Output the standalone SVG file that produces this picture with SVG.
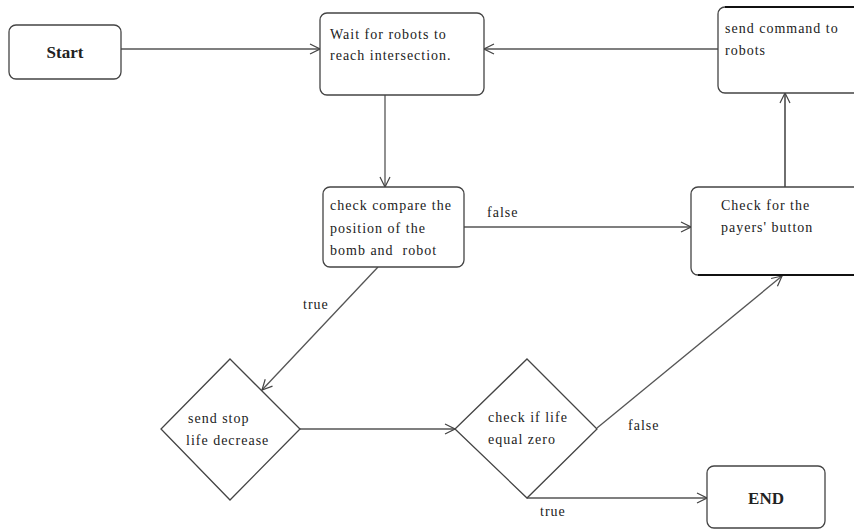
<svg xmlns="http://www.w3.org/2000/svg" width="854" height="530" viewBox="0 0 854 530">
<style>
.box{fill:#fff;stroke:#444;stroke-width:1.3}
.t{font-family:"Liberation Serif","Times New Roman",serif;font-size:14px;fill:#222;letter-spacing:1px}
.b{font-family:"Liberation Serif","Times New Roman",serif;font-size:17px;font-weight:bold;fill:#222}
.c{fill:none;stroke:#555;stroke-width:1.3}
</style>
<defs>
<marker id="a" viewBox="0 0 12 12" refX="11" refY="6" markerWidth="12" markerHeight="12" markerUnits="userSpaceOnUse" orient="auto">
<path d="M1,1 L11,6 L1,11" fill="none" stroke="#444" stroke-width="1.2"/>
</marker>
</defs>
<rect width="854" height="530" fill="#fff"/>
<g id="connectors">
<line class="c" x1="121" y1="49" x2="320" y2="49" marker-end="url(#a)"/>
<line class="c" x1="718" y1="49" x2="484" y2="49" marker-end="url(#a)"/>
<line class="c" x1="385" y1="95" x2="385" y2="187" marker-end="url(#a)"/>
<line class="c" x1="464" y1="227" x2="691" y2="227" marker-end="url(#a)"/>
<line class="c" x1="785" y1="187" x2="785" y2="93" marker-end="url(#a)" style="stroke:#222"/>
<line class="c" x1="378" y1="267" x2="262" y2="390" marker-end="url(#a)"/>
<line class="c" x1="300" y1="429" x2="455" y2="429" marker-end="url(#a)"/>
<line class="c" x1="597" y1="428" x2="782" y2="276" marker-end="url(#a)"/>
<polyline class="c" points="527,498 707,498" marker-end="url(#a)"/>
<text class="t" x="487" y="217">false</text>
<text class="t" x="303" y="309">true</text>
<text class="t" x="628" y="430">false</text>
<text class="t" x="540" y="516">true</text>
</g>
<g id="start">
<rect class="box" x="9" y="25" width="112" height="54" rx="7"/>
<text class="b" x="65" y="58" text-anchor="middle">Start</text>
</g>
<g id="wait">
<rect class="box" x="320" y="13" width="164" height="82" rx="7"/>
<text class="t" x="330" y="39">Wait for robots to</text>
<text class="t" x="330" y="60">reach intersection.</text>
</g>
<g id="sendcmd">
<rect class="box" x="718" y="7" width="150" height="86" rx="7"/>
<line x1="725" y1="7" x2="854" y2="7" stroke="#111" stroke-width="2"/>
<text class="t" x="725" y="33">send command to</text>
<text class="t" x="725" y="55">robots</text>
</g>
<g id="compare">
<rect class="box" x="323" y="187" width="141" height="80" rx="7"/>
<text class="t" x="330" y="210">check compare the</text>
<text class="t" x="330" y="233">position of the</text>
<text class="t" x="330" y="255" xml:space="preserve">bomb and  robot</text>
</g>
<g id="players">
<rect class="box" x="691" y="187" width="175" height="88" rx="7"/>
<line x1="698" y1="275" x2="854" y2="275" stroke="#111" stroke-width="2"/>
<text class="t" x="721" y="210">Check for the</text>
<text class="t" x="721" y="232">payers' button</text>
</g>
<g id="sendstop">
<polygon class="box" points="230,359 300,429 230,500 161,429"/>
<text class="t" x="188" y="423">send stop</text>
<text class="t" x="186" y="445">life decrease</text>
</g>
<g id="checklife">
<polygon class="box" points="527,359 597,429 527,498 455,429"/>
<text class="t" x="488" y="422">check if life</text>
<text class="t" x="488" y="444">equal zero</text>
</g>
<g id="end">
<rect class="box" x="707" y="466" width="118" height="62" rx="7"/>
<text class="b" x="766" y="504" text-anchor="middle">END</text>
</g>
</svg>
